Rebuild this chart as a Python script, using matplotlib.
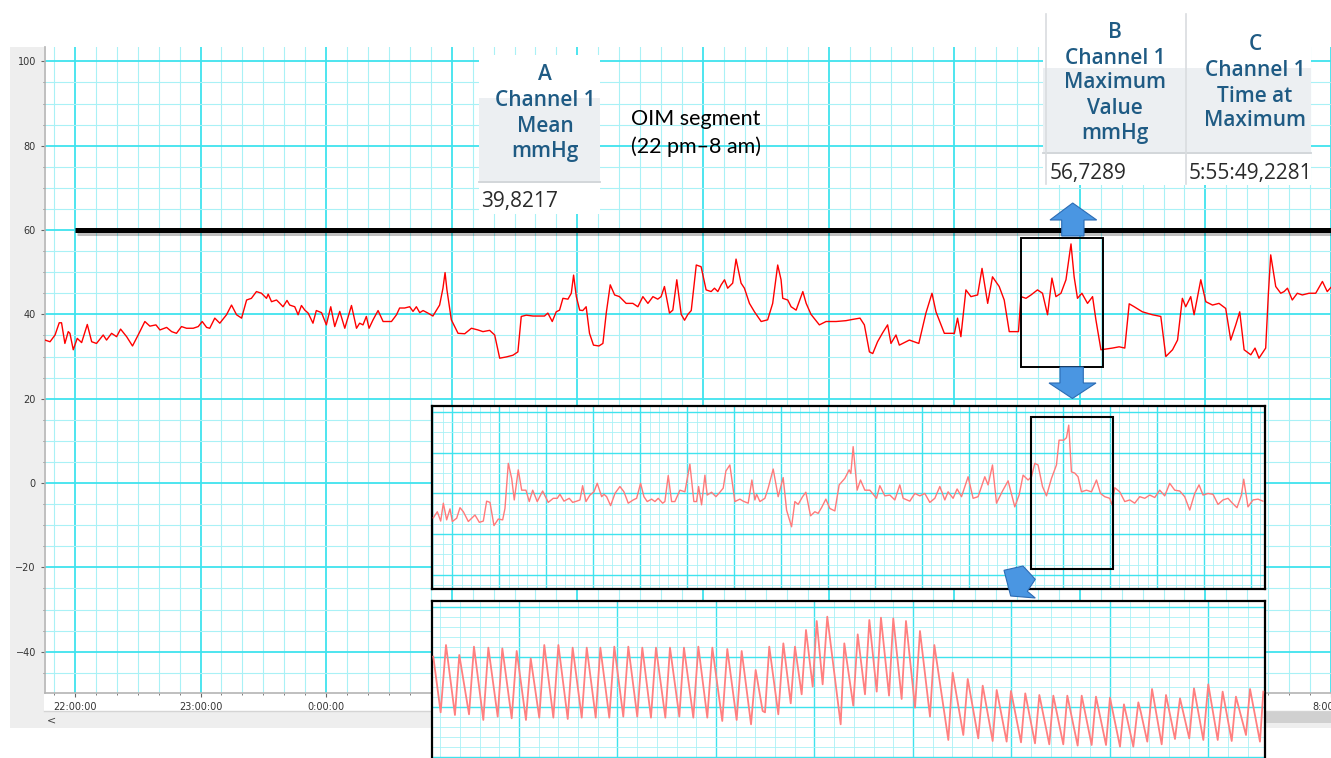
import matplotlib
matplotlib.use("Agg")
import matplotlib.pyplot as plt
import matplotlib.patheffects as pe
from matplotlib.patches import Rectangle, Polygon
from matplotlib.ticker import MultipleLocator, FuncFormatter
import numpy as np

W, H = 1331, 758

# main trace: minutes after 22:00 and pressure in mmHg
main_min = [
    -14.3, -11.9, -9.5, -7.5, -6.4, -4.8, -3.2, -2.4, -0.8, 1.1, 3.2, 5.9, 8.0, 10.3, 13.5, 15.1,
    17.5, 19.9, 21.8, 24.7, 27.5, 30.2, 33.4, 35.8, 38.7, 40.6, 43.8, 46.2, 48.5, 50.9, 53.3, 56.5,
    58.9, 60.8, 62.9, 64.4, 66.8, 69.2, 72.4, 74.8, 77.2, 79.6, 82.0, 84.3, 86.7, 89.1, 91.5, 92.3,
    93.9, 96.3, 97.9, 99.4, 101.3, 102.6, 105.0, 106.6, 108.2, 109.8, 111.4, 113.7, 115.3, 117.8,
    120.1, 122.2, 124.1, 126.5, 128.9, 132.1, 134.5, 136.0, 137.6, 139.2, 140.5, 142.4, 144.8,
    147.2, 151.2, 153.6, 155.1, 157.5, 159.9, 161.5, 163.1, 164.7, 166.3, 168.6, 171.0, 174.2,
    175.8, 176.8, 177.7,
    179.8, 183.0, 186.2, 189.4, 192.5, 194.9, 198.1, 200.5, 202.9, 206.1, 209.2, 211.6, 213.2,
    215.6, 218.8, 222.0, 224.3, 225.9, 228.0, 229.9, 231.5, 233.1, 235.5, 237.1, 238.2, 239.5,
    241.1, 242.6, 244.2, 245.8, 247.7, 250.3, 252.2, 253.8, 255.7, 257.8, 260.1, 263.3, 266.5,
    268.9, 271.3, 273.7, 276.1, 278.4, 280.0, 281.6, 284.0, 285.6, 287.5, 289.6, 291.2, 292.8,
    294.4, 296.8, 299.1, 301.5, 303.9, 305.5, 307.1, 308.7, 310.3, 311.8, 314.2, 315.8, 318.2,
    319.8, 322.2, 324.6, 327.8, 330.9, 333.3, 335.7, 337.3, 338.1, 340.5, 342.1, 344.5, 347.7,
    349.3, 351.6, 355.6, 358.8, 363.6, 368.3, 371.5, 375.0, 377.1, 379.5, 381.1, 383.4, 385.8,
    388.2, 389.8, 392.2, 393.8, 398.6, 403.1, 406.5, 409.4, 411.3, 415.3, 420.1, 421.6, 423.2,
    425.6, 428.0, 431.2, 433.3, 436.0, 438.3, 441.5, 443.9, 446.3, 450.7, 451.9, 454.3, 456.7,
    459.8, 462.2, 464.6, 466.7, 468.6, 471.0, 473.4, 475.8, 477.3, 478.9, 481.0, 483.7, 486.1,
    487.7, 490.1, 495.6, 498.8, 501.5, 503.6, 506.0, 509.9, 514.7, 518.7, 521.1, 524.3, 526.7,
    529.0, 530.6, 533.0, 534.6, 537.8, 540.2, 543.4, 546.5, 549.7, 552.1, 554.5, 556.4, 558.5,
    561.7, 563.7, 565.6, 568.8, 570.1, 571.2, 573.6, 576.0, 577.6, 579.2, 581.5, 583.9, 586.3,
    589.5, 592.7, 595.9, 598.2, 600.0,
]
main_mmhg = [
    33.9, 33.5, 35.1, 38.0, 38.0, 33.1, 35.9, 35.5, 31.6, 34.3, 33.3, 37.6, 33.5, 33.1, 35.1, 33.9,
    35.5, 34.7, 36.5, 34.7, 32.5, 35.1, 38.3, 37.2, 37.5, 36.3, 36.9, 35.9, 35.5, 37.1, 36.7, 36.7,
    37.1, 38.3, 36.9, 36.7, 39.1, 37.9, 39.9, 42.2, 39.9, 39.1, 43.4, 43.8, 45.4, 45.0, 43.8, 44.8,
    43.0, 43.4, 42.6, 41.8, 43.3, 42.2, 41.8, 39.9, 42.1, 41.0, 40.3, 37.9, 40.9, 40.4,
    37.5, 41.8, 37.1, 40.7, 36.7, 42.1, 36.7, 37.9, 37.5, 39.5, 36.7, 38.7, 40.9,
    38.3, 38.3, 39.9, 41.5, 41.5, 41.8, 40.7, 41.8, 40.4, 40.9, 40.3, 39.6, 42.2,
    46.2, 49.9, 45.8,
    38.7, 35.5, 35.4, 36.7, 36.3, 35.9, 36.2, 35.1, 29.6, 29.9, 30.3, 31.1, 39.5,
    39.8, 39.6, 39.6, 39.6, 40.3, 38.3, 40.6, 41.0, 43.8, 43.6, 45.0, 49.3, 44.2,
    41.0, 40.9, 41.8, 35.5, 32.7, 32.5, 33.1, 40.3, 47.0, 44.6, 44.2, 42.6, 42.6,
    41.8, 44.2, 42.6, 44.2, 43.6, 44.2, 46.6, 40.3, 41.0, 48.2, 40.0, 38.6, 40.0,
    40.9, 51.7, 51.3, 45.8, 45.4, 46.2, 45.4, 47.0, 48.2, 46.2, 47.4, 53.1, 47.4,
    46.2, 42.6, 40.6, 38.3, 38.7, 42.6, 51.7, 48.2, 43.8, 43.4, 41.8, 41.0, 45.4,
    42.6, 40.0, 37.5, 38.3, 38.3, 38.5, 38.8, 39.1, 37.5, 31.1, 30.7, 33.5, 35.6,
    37.5, 33.1, 35.1, 32.7, 33.9, 33.1, 40.3, 45.0, 40.6, 35.5, 35.5, 39.1, 34.7,
    45.8, 44.2, 44.6, 50.9, 42.6, 48.9, 46.6, 43.4, 35.9, 35.9, 44.2, 43.8, 44.6,
    45.8, 45.0, 39.9, 48.6, 44.2, 45.0, 48.2, 56.7, 48.9, 43.8, 45.0, 42.6, 44.2,
    38.7, 31.6, 32.0, 32.3, 32.0, 42.5, 41.8, 40.6, 39.9, 39.5, 30.0, 31.6, 33.9,
    43.8, 41.8, 44.2, 39.9, 48.2, 43.0, 42.2, 42.6, 41.4, 33.9, 37.5, 40.6, 31.6,
    30.4, 32.0, 29.6, 32.0, 45.0, 54.1, 46.6, 45.0, 45.4, 46.2, 43.4, 45.0, 44.6,
    45.0, 45.0, 47.8, 45.4, 46.4,
]

THRESHOLD = 60
THRESHOLD_START_MIN = 0
zoom_box_min = (451.9, 490.9)
zoom_box_mmhg = (27.5, 58.0)

# first zoom panel (minutes, mmHg)
zoom_min = [
    -4.02, -3.17, -2.45, -1.89, -1.18, -0.47, 0.03, 0.95, 1.66, 2.37, 3.43, 4.85, 5.77, 6.62, 7.33,
    8.04, 8.89, 9.81, 10.74, 11.23, 11.94, 12.66, 13.21, 14.06, 14.79, 15.7, 16.4, 17.13, 18.1,
    19.25, 20.44, 21.51, 22.36, 22.93, 23.79, 24.91, 25.64, 26.49, 27.19, 27.76, 28.47, 29.32,
    30.17, 30.87, 31.81, 32.3, 32.87, 33.72, 34.64, 35.7, 36.55, 37.47, 38.53, 39.25, 40.1, 40.81,
    41.51, 42.44, 43.15, 43.85, 44.79, 45.27, 45.98, 46.7, 47.4, 48.47, 49.53, 50.59, 51.44,
    52.02, 52.44, 53.08, 53.79, 54.27, 55.2, 56.13, 56.98, 57.68, 58.25, 59.1, 60.17, 61.23,
    61.93, 63.0, 63.79, 64.42, 64.79, 65.49, 66.55, 67.25, 68.32, 69.38, 70.44, 71.17, 72.23,
    72.93, 73.64, 74.57, 75.27, 76.27, 77.19, 77.89, 78.61, 79.53, 80.38, 81.44, 82.36, 83.57,
    84.49, 84.85, 85.34, 86.19, 86.91, 87.83, 88.89, 90.31, 91.02, 92.08, 93.15, 94.21, 95.27,
    95.98, 97.4, 98.47, 99.53, 100.59, 101.66, 102.72, 103.79, 104.85, 105.55, 106.61, 107.47,
    108.4, 109.81, 110.87, 111.93, 113.36, 114.06, 115.0, 115.85, 117.13, 118.32, 119.74,
    120.66, 121.51, 122.57, 123.3, 124.0, 124.7, 125.64, 126.49, 127.55, 128.61, 129.17,
    130.17, 130.74, 131.23, 131.8, 132.51, 133.21, 133.93, 135.0, 136.06, 137.13, 137.98,
    138.89, 139.96, 140.44, 141.02, 142.08, 143.15, 144.21, 145.27, 146.34, 147.4, 148.47,
    149.53, 150.59, 151.66, 152.72, 153.79, 154.85, 155.91, 156.98, 158.04, 158.96, 159.81,
    160.87, 161.93, 163.0, 164.06, 165.13, 166.06, 167.04, 167.98, 168.47, 169.38, 170.44,
    171.51, 172.57,
]
zoom_mmhg = [
    34.0, 35.5, 33.2, 37.6, 33.5, 36.2, 33.1, 33.9, 36.5, 35.5, 33.1, 34.7, 32.9, 33.2, 38.1,
    37.8, 32.1, 33.7, 33.5, 36.3, 47.4, 43.7, 38.4, 45.8, 40.8, 40.8, 38.0, 40.8, 38.0,
    40.6, 37.8, 38.8, 38.8, 39.8, 38.1, 38.8, 37.8, 38.1, 38.4, 41.9, 38.0, 39.6,
    40.4, 42.5, 39.2, 39.8, 39.2, 37.0, 40.0, 41.7, 40.4, 37.6, 38.4, 38.8, 42.5, 39.2,
    38.0, 38.6, 38.0, 38.8, 37.6, 38.0, 44.4, 38.0, 38.0, 40.8, 40.4, 47.2, 38.0,
    38.0, 41.7, 37.2, 44.5, 39.6, 40.3, 39.2, 40.3, 41.3, 45.5, 47.0, 38.0, 38.6,
    38.1, 37.6, 43.3, 38.4, 39.8, 38.0, 38.8, 41.3, 46.0, 39.2, 43.9, 35.9, 31.8,
    38.0, 37.3, 39.2, 40.3, 34.5, 35.5, 35.1, 36.5, 38.6, 36.3, 35.7, 42.1, 43.7,
    45.8, 44.9, 51.5, 40.8, 43.3, 40.8, 40.8, 38.8, 41.9, 39.4, 39.6, 38.4, 42.1,
    38.8, 38.1, 40.0, 39.4, 40.0, 37.8, 38.8, 41.7, 38.4, 40.4, 38.8, 41.1,
    39.2, 44.1, 38.8, 39.2, 44.1, 42.1, 47.0, 37.6, 40.6, 43.1, 36.7,
    39.6, 44.5, 43.3, 44.1, 47.4, 47.0, 41.7, 39.4, 43.7, 47.0, 53.1,
    53.1, 53.7, 56.8, 45.3, 45.0, 44.1, 40.4, 40.8, 40.4, 43.3, 40.0,
    39.2, 38.8, 37.2, 41.4, 40.4, 38.0, 38.4, 37.6, 39.2, 38.8, 39.6,
    39.0, 40.8, 39.4, 42.5, 40.8, 40.6, 39.2, 35.9, 40.0, 42.1, 39.6,
    40.0, 39.8, 37.3, 38.4, 38.8, 37.6, 36.5, 39.6, 43.5, 36.7, 38.4,
    38.6, 38.1,
]
inner_box_min = (123.3, 140.7)
inner_box_mmhg = (21.4, 58.7)

# second zoom panel, pulse waveform (seconds, mmHg)
wave_s = [
    -0.870, -0.795, -0.741, -0.650, -0.606, -0.507, -0.457, -0.362, -0.311, -0.216, -0.169,
    -0.074, -0.023, 0.071, 0.119, 0.206, 0.257, 0.349, 0.400, 0.495, 0.545, 0.637, 0.688, 0.779,
    0.826, 0.917, 0.968, 1.059, 1.110, 1.201, 1.252, 1.340, 1.391, 1.486, 1.533, 1.628, 1.675,
    1.770, 1.821, 1.912, 1.963, 2.064, 2.115, 2.210, 2.261, 2.356, 2.403, 2.474, 2.498, 2.541,
    2.633, 2.684, 2.759, 2.802, 2.870, 2.914, 2.982, 3.023, 3.083, 3.130, 3.266, 3.303, 3.394,
    3.439, 3.513, 3.557, 3.632, 3.675, 3.757, 3.800, 3.885, 3.929, 4.021, 4.071, 4.173, 4.217,
    4.359, 4.403, 4.511, 4.556, 4.663, 4.708, 4.809, 4.850, 4.951, 4.995, 5.097, 5.140, 5.239,
    5.283, 5.384, 5.425, 5.526, 5.567, 5.672, 5.713, 5.814, 5.858, 5.960, 6.000, 6.102, 6.142,
    6.237, 6.288, 6.312, 6.379, 6.427, 6.525, 6.569, 6.660, 6.711, 6.805, 6.853, 6.948, 6.998,
    7.094, 7.144, 7.236, 7.279, 7.381, 7.422, 7.523, 7.557,
]
wave_mmhg = [
    49.97, 38.83, 52.3, 38.3, 50.3, 38.43, 51.97, 37.3, 51.77, 37.97, 51.63,
    37.63, 51.1, 37.3, 49.63, 37.77, 52.3, 37.77, 52.3, 37.5, 51.77, 37.77, 51.77, 37.77,
    51.77, 37.77, 51.97, 37.97, 51.97, 37.97, 51.77, 37.77, 51.77, 37.77, 51.77, 37.97, 51.77,
    37.77, 51.97, 37.77, 51.77, 37.1, 51.5, 37.3, 51.1, 36.43, 47.3, 39.1, 38.83, 51.97,
    38.43, 52.63, 40.63, 51.97, 42.43, 55.3, 43.97, 57.1, 44.43, 57.97, 36.43, 52.63, 40.17,
    54.43, 42.43, 57.3, 42.97, 57.77, 42.17, 57.63, 41.5, 57.1, 39.77, 55.1, 37.97, 52.3,
    33.3, 46.77, 34.3, 45.5, 33.63, 44.17, 33.1, 43.3, 32.97, 43.1, 32.83, 42.63, 32.63,
    42.3, 32.43, 42.17, 32.43, 42.17, 32.17, 42.17, 32.3, 41.97, 32.3, 41.77, 31.97, 40.43,
    31.97, 40.83, 38.97, 32.97, 43.5, 32.43, 42.3, 33.5, 41.63, 33.63, 43.63, 33.3, 44.43,
    33.3, 42.97, 33.1, 41.97, 34.3, 43.5, 32.97, 42.97,
]

header_a = ["A", "Channel 1", "Mean", "mmHg"]
header_b = ["B", "Channel 1", "Maximum", "Value", "mmHg"]
header_c = ["C", "Channel 1", "Time at", "Maximum"]
value_a = "39,8217"
value_b = "56,7289"
value_c = "5:55:49,2281"

GRID_MAJ = "#3fe3ee"
GRID_MIN = "#a9f1f6"
HEAD_BLUE = "#1f5b84"
ARROW_FC = "#4a96e2"
ARROW_EC = "#2c6cb4"


def frac(x0, y0, x1, y1):
    return [x0 / W, 1 - y1 / H, (x1 - x0) / W, (y1 - y0) / H]


def style_grid(a, xmaj, xmin, ymaj, ymin, lw_maj, lw_min):
    a.xaxis.set_major_locator(MultipleLocator(xmaj))
    a.xaxis.set_minor_locator(MultipleLocator(xmin))
    a.yaxis.set_major_locator(MultipleLocator(ymaj))
    a.yaxis.set_minor_locator(MultipleLocator(ymin))
    a.grid(which="major", color=GRID_MAJ, lw=lw_maj)
    a.grid(which="minor", color=GRID_MIN, lw=lw_min)
    a.set_axisbelow(True)


fig = plt.figure(figsize=(W / 100, H / 100), dpi=100)

# window chrome behind the chart
bg = fig.add_axes([0, 0, 1, 1], zorder=-1)
bg.set_xlim(0, W)
bg.set_ylim(H, 0)
bg.axis("off")
bg.add_patch(Rectangle((10, 47), 34, 681, fc="#eeeeee", lw=0))
bg.add_patch(Rectangle((44, 711), W - 44, 17, fc="#eeeeee", lw=0))
bg.plot([44, W], [711, 711], color="#d4d4d4", lw=1)
bg.add_patch(Rectangle((1265, 712), W - 1265, 11, fc="#d0d0d0", lw=0))
bg.text(52, 720, "<", fontsize=8, color="#444444", ha="center", va="center")

# main recording
ax = fig.add_axes(frac(45, 47, W, 693), zorder=1)
ax.set_xlim(-14.3 / 60, 10.0)
ax.set_ylim(-49.8, 103.4)
style_grid(ax, 1, 1 / 6, 20, 5, 1.3, 0.8)
ax.xaxis.set_major_formatter(FuncFormatter(lambda t, pos: f"{int(round(22 + t)) % 24}:00:00"))
ax.tick_params(which="both", direction="out", color="#666666", labelcolor="#333333", labelsize=7)
ax.tick_params(which="major", length=3)
ax.tick_params(which="minor", length=1.5)
for s in ("top", "right"):
    ax.spines[s].set_visible(False)
for s in ("left", "bottom"):
    ax.spines[s].set_color("#b4b4b4")
    ax.spines[s].set_linewidth(1.2)

t_h = np.array(main_min) / 60
ax.plot(t_h, main_mmhg, color="#ff0000", lw=1.0, zorder=3)
ax.plot([THRESHOLD_START_MIN / 60, 10.0], [THRESHOLD, THRESHOLD], color="black", lw=3.6,
        solid_capstyle="butt", zorder=4,
        path_effects=[pe.SimpleLineShadow(offset=(1.5, -2.5), alpha=0.25), pe.Normal()])
ax.add_patch(Rectangle((zoom_box_min[0] / 60, zoom_box_mmhg[0]),
                       (zoom_box_min[1] - zoom_box_min[0]) / 60,
                       zoom_box_mmhg[1] - zoom_box_mmhg[0],
                       fill=False, ec="black", lw=1.4, zorder=5))

# first zoom panel
ax1 = fig.add_axes(frac(432, 406, 1265, 589), zorder=3)
ax1.set_xlim(-4.3, 173)
ax1.set_ylim(16.5, 61.5)
style_grid(ax1, 10, 2, 10, 2.5, 1.0, 0.6)
ax1.tick_params(which="both", length=0, labelbottom=False, labelleft=False)
for s in ax1.spines.values():
    s.set_color("black")
    s.set_linewidth(1.6)
ax1.plot(zoom_min, zoom_mmhg, color="#ff7a7a", lw=1.0, zorder=3)
ax1.add_patch(Rectangle((inner_box_min[0], inner_box_mmhg[0]),
                        inner_box_min[1] - inner_box_min[0],
                        inner_box_mmhg[1] - inner_box_mmhg[0],
                        fill=False, ec="black", lw=1.5, zorder=4))

# second zoom panel, runs off the bottom of the image
ax2 = fig.add_axes(frac(432, 601, 1265, 800), zorder=3)
ax2.set_xlim(-0.883, 7.574)
ax2.set_ylim(21.3, 61.1)
style_grid(ax2, 1, 0.2, 10, 2, 1.0, 0.6)
ax2.tick_params(which="both", length=0, labelbottom=False, labelleft=False)
for s in ax2.spines.values():
    s.set_color("black")
    s.set_linewidth(1.6)
ax2.plot(wave_s, wave_mmhg, color="#ff8080", lw=1.3, zorder=3)

# callouts and arrows in pixel space
ov = fig.add_axes([0, 0, 1, 1], zorder=10)
ov.set_xlim(0, W)
ov.set_ylim(H, 0)
ov.axis("off")

hfont = dict(family="Open Sans", fontsize=15, color=HEAD_BLUE, ha="center", va="center",
             weight="semibold")
vfont = dict(family="Open Sans", fontsize=15, color="#2a2a2a", ha="left", va="center")

ov.add_patch(Rectangle((479, 55), 121, 159, fc="white", lw=0))
ov.add_patch(Rectangle((479, 98), 121, 83, fc="#eceff2", lw=0))
ov.plot([479, 600], [181.5, 181.5], color="#cfd3d7", lw=1.3)
for line, y in zip(header_a, [74, 100, 126, 151]):
    ov.text(545, y, line, **hfont)
ov.text(481, 202, value_a, **vfont)

ov.add_patch(Rectangle((1043, 14), 268, 171, fc="white", lw=0))
ov.add_patch(Rectangle((1043, 68), 268, 84, fc="#eceff2", lw=0))
ov.plot([1043, 1311], [152.5, 152.5], color="#cfd3d7", lw=1.3)
for x in (1046, 1186):
    ov.plot([x, x], [14, 184], color="#d9dcdf", lw=1.2)
for line, y in zip(header_b, [33, 58, 83, 108, 134]):
    ov.text(1115, y, line, **hfont)
for line, y in zip(header_c, [44, 70, 96, 121]):
    ov.text(1255, y, line, **hfont)
ov.text(1050, 173, value_b, **vfont)
tc = ov.text(1189, 173, value_c, **vfont)
clip = Rectangle((1186, 150), 125, 40, transform=ov.transData)
tc.set_clip_path(clip)

ov.text(631, 119, "OIM segment", family="Lato", fontsize=15.5, color="black", va="center")
ov.text(631, 147, "(22 pm\u20138 am)", family="Lato", fontsize=15.5, color="black", va="center")

arrows = [
    [(1072.7, 203), (1096.7, 220), (1084, 220), (1084, 236), (1061.7, 236), (1061.7, 220), (1050, 220)],
    [(1060, 367), (1083.3, 367), (1083.3, 383), (1096, 383), (1072.4, 398.5), (1049, 383), (1060, 383)],
    [(1004, 570.3), (1023, 566), (1035.3, 579.3), (1027.3, 591.3), (1035.3, 598), (1010.7, 596)],
]
for pts in arrows:
    ov.add_patch(Polygon(pts, closed=True, fc=ARROW_FC, ec=ARROW_EC, lw=0.8))

fig.savefig("out.png", dpi=100)
